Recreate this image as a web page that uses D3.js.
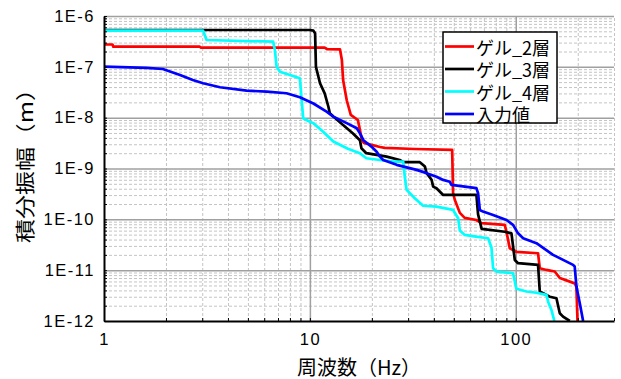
<!DOCTYPE html>
<html>
<head>
<meta charset="utf-8">
<script src="https://cdn.jsdelivr.net/npm/d3@7"></script>
<style>
  body { margin: 0; background: #fff; }
  svg { display: block; }
  text { font-family: "Liberation Sans", Arial, "Noto Sans CJK JP", sans-serif; }
  .jp { font-family: "Noto Sans CJK JP", "Noto Sans", sans-serif; }
</style>
</head>
<body>
<svg id="chart" width="621" height="379"></svg>
<script>
// Integrated amplitude spectra [frequency (Hz), amplitude (m)]
const seriesNames = ["ゲル_2層", "ゲル_3層", "ゲル_4層", "入力値"];
const seriesColors = ["#ff0000", "#000000", "#00ffff", "#0000ff"];

const gel2 = [
  [1, 2.75e-7], [1.1, 2.75e-7], [1.11, 2.49e-7], [2.92, 2.49e-7], [2.96, 2.38e-7],
  [11.8, 2.38e-7], [12.1, 2.24e-7], [14.0, 2.21e-7], [14.3, 1.36e-7], [14.5, 5.5e-8],
  [15.1, 2.2e-8], [15.8, 1.13e-8], [17.1, 9.0e-9], [17.5, 5.7e-9], [17.9, 3.6e-9],
  [18.3, 3.2e-9], [21.9, 2.65e-9], [23.1, 2.54e-9], [32.3, 2.42e-9], [49.1, 2.32e-9],
  [49.6, 3.3e-10], [50.6, 2.4e-10], [53.5, 1.34e-10], [56.5, 1.07e-10], [64.4, 9.7e-11],
  [68.1, 8.4e-11], [88.4, 7.8e-11], [90.1, 5.7e-11], [93.5, 2.7e-11], [100.7, 2.3e-11],
  [128.3, 2.15e-11], [130.8, 1.09e-11], [141, 1.01e-11], [154.6, 9.4e-12], [163.6, 7.0e-12],
  [193.3, 5.5e-12], [197, 4.75e-12], [199.5, 1.0e-12]
];

const gel3 = [
  [1, 5.3e-7], [10.0, 5.3e-7], [10.4, 5.14e-7], [10.6, 4.57e-7], [10.7, 1.0e-7],
  [11.2, 4.75e-8], [11.8, 3.0e-8], [12.3, 1.64e-8], [12.5, 1.22e-8], [13.0, 1.05e-8],
  [14.5, 7.2e-9], [16.2, 4.9e-9], [17.5, 3.6e-9], [17.8, 2.5e-9], [18.8, 2.0e-9],
  [21.1, 1.85e-9], [23.6, 1.71e-9], [27.3, 1.47e-9], [28.4, 1.33e-9], [34.2, 1.33e-9],
  [36.2, 1.09e-9], [36.9, 8.1e-10], [39.0, 6.0e-10], [39.7, 4.4e-10], [41.2, 4.1e-10],
  [44.4, 3.02e-10], [64.4, 3.02e-10], [65.6, 1.25e-10], [68.3, 6.5e-11], [88.4, 5.7e-11],
  [95.3, 5.3e-11], [98.9, 1.59e-11], [102.6, 1.37e-11], [128.3, 1.27e-11], [130.8, 3.8e-12],
  [146.3, 3.0e-12], [157.6, 2.8e-12], [163.6, 1.42e-12], [169.7, 1.22e-12], [183, 1.0e-12]
];

const gel4 = [
  [1, 5.14e-7], [3.03, 5.14e-7], [3.15, 3.37e-7], [6.63, 3.12e-7], [6.76, 2.14e-7],
  [6.89, 1.01e-7], [7.15, 8.0e-8], [8.0, 6.9e-8], [8.94, 5.96e-8], [9.12, 2.23e-8],
  [9.28, 9.7e-9], [10.0, 8.3e-9], [10.4, 7.8e-9], [11.6, 5.3e-9], [13.0, 3.4e-9],
  [15.3, 2.45e-9], [17.5, 2.0e-9], [18.8, 1.59e-9], [21.9, 1.47e-9], [25.4, 1.36e-9],
  [28.4, 1.36e-9], [28.9, 6.9e-10], [29.5, 3.8e-10], [32.3, 2.6e-10], [35.5, 1.85e-10],
  [41.2, 1.78e-10], [49.6, 1.53e-10], [52.5, 1.05e-10], [53.5, 6.0e-11], [56.5, 4.93e-11],
  [64, 4.57e-11], [73.4, 4.25e-11], [76.2, 2.8e-11], [77.6, 1.09e-11], [80.6, 9.4e-12],
  [97, 8.7e-12], [100.7, 4.3e-12], [112.7, 3.8e-12], [126, 3.6e-12], [141, 3.26e-12],
  [143.6, 2.4e-12], [149, 1.65e-12], [154, 1.0e-12]
];

const inputWave = [
  [1, 1.01e-7], [1.61, 9.5e-8], [1.93, 9.07e-8], [2.34, 6.9e-8], [2.70, 5.5e-8],
  [3.03, 4.75e-8], [3.66, 3.96e-8], [4.93, 3.4e-8], [6.17, 3.25e-8], [7.70, 3.02e-8],
  [8.94, 2.52e-8], [10.4, 1.9e-8], [12.05, 1.31e-8], [13.0, 1.05e-8], [15.1, 7.8e-9],
  [16.9, 6.2e-9], [17.5, 4.9e-9], [18.2, 3.6e-9], [19.9, 2.7e-9], [21.1, 2.14e-9],
  [21.9, 1.71e-9], [22.7, 1.47e-9], [26.4, 1.18e-9], [33.0, 9.4e-10], [36.9, 8.1e-10],
  [41.2, 6.9e-10], [44.4, 5.96e-10], [47.8, 5.5e-10], [48.7, 4.75e-10], [64.4, 4.1e-10],
  [65.6, 3.26e-10], [66.9, 1.53e-10], [69.3, 1.42e-10], [77.6, 1.22e-10], [90.1, 9.7e-11],
  [97, 7.8e-11], [102.6, 5.3e-11], [108.6, 4.25e-11], [126, 3.4e-11], [151.7, 2.0e-11],
  [189.8, 1.27e-11], [193.3, 1.18e-11], [197.1, 4.75e-12], [204.6, 2.24e-12], [212.4, 1.0e-12]
];

const seriesData = [gel2, gel3, gel4, inputWave];

const freqTicks = [1, 10, 100];
const freqTickLabels = ["1", "10", "100"];
const ampTicks = [1e-6, 1e-7, 1e-8, 1e-9, 1e-10, 1e-11, 1e-12];
const ampTickLabels = ["1E-6", "1E-7", "1E-8", "1E-9", "1E-10", "1E-11", "1E-12"];

const xTitle = "周波数（Hz）";
const yTitle = "積分振幅（m）";

// Layout
const plot = { left: 104, right: 614, top: 16, bottom: 321 };
const x = d3.scaleLog().domain([1, 300]).range([plot.left, plot.right]);
const y = d3.scaleLog().domain([1e-12, 1e-6]).range([plot.bottom, plot.top]);

const svg = d3.select("#chart");
svg.append("rect").attr("width", 621).attr("height", 379).attr("fill", "#fff");

// Minor tick positions (2..9 within each decade)
const xMinor = [];
[1, 10, 100].forEach(d => { for (let k = 2; k <= 9; k++) { const v = d * k; if (v <= 300) xMinor.push(v); } });
const yMinor = [];
for (let e = -12; e < -6; e++) { for (let k = 2; k <= 9; k++) yMinor.push(k * Math.pow(10, e)); }

const plotH = plot.bottom - plot.top;
const plotW = plot.right - plot.left;

// Minor grid (dashed)
const gMinor = svg.append("g");
gMinor.append("g").attr("transform", `translate(0,${plot.bottom})`)
  .call(d3.axisBottom(x).tickValues(xMinor).tickSize(-plotH).tickFormat(""));
gMinor.append("g").attr("transform", `translate(${plot.left},0)`)
  .call(d3.axisLeft(y).tickValues(yMinor).tickSize(-plotW).tickFormat(""));
gMinor.selectAll(".domain").remove();
gMinor.selectAll("line").attr("stroke", "#c4c4c4").attr("stroke-width", 1).attr("stroke-dasharray", "3,2");

// Major grid (solid)
const gMajor = svg.append("g");
gMajor.append("g").attr("transform", `translate(0,${plot.bottom})`)
  .call(d3.axisBottom(x).tickValues(freqTicks.slice(1)).tickSize(-plotH).tickFormat(""));
gMajor.append("g").attr("transform", `translate(${plot.left},0)`)
  .call(d3.axisLeft(y).tickValues(ampTicks.slice(0, -1)).tickSize(-plotW).tickFormat(""));
gMajor.selectAll(".domain").remove();
gMajor.selectAll("line").attr("stroke", "#a0a0a0").attr("stroke-width", 1.5);

// Clip for data lines
svg.append("clipPath").attr("id", "plotClip")
  .append("rect").attr("x", plot.left).attr("y", plot.top - 2).attr("width", plotW).attr("height", plotH + 2);

const line = d3.line().x(d => x(d[0])).y(d => y(d[1]));
const gLines = svg.append("g").attr("clip-path", "url(#plotClip)");
seriesData.forEach((data, i) => {
  gLines.append("path")
    .datum(data)
    .attr("fill", "none")
    .attr("stroke", seriesColors[i])
    .attr("stroke-width", 2.7)
    .attr("stroke-linejoin", "round")
    .attr("d", line);
});

// Inner tick marks
const gTicks = svg.append("g");
gTicks.append("g").attr("transform", `translate(${plot.left},0)`)
  .call(d3.axisRight(y).tickValues(ampTicks.concat(yMinor)).tickSize(3).tickFormat(""));
gTicks.append("g").attr("transform", `translate(0,${plot.bottom})`)
  .call(d3.axisTop(x).tickValues(freqTicks.concat(xMinor)).tickSize(3).tickFormat(""));
gTicks.selectAll(".domain").remove();
gTicks.selectAll("line").attr("stroke", "#000").attr("stroke-width", 1);

// Axis lines and labels
const yAxis = svg.append("g").attr("transform", `translate(${plot.left},0)`)
  .call(d3.axisLeft(y).tickValues(ampTicks).tickSize(0).tickPadding(9)
    .tickFormat((d, i) => ampTickLabels[i]));
const xAxis = svg.append("g").attr("transform", `translate(0,${plot.bottom})`)
  .call(d3.axisBottom(x).tickValues(freqTicks).tickSize(0).tickPadding(12)
    .tickFormat((d, i) => freqTickLabels[i]));
[xAxis, yAxis].forEach(a => {
  a.select(".domain").attr("stroke", "#000").attr("stroke-width", 2);
  a.selectAll("text").attr("font-size", 16.5).attr("fill", "#000")
    .attr("letter-spacing", 1.5)
    .attr("font-family", "'Liberation Sans', Arial, sans-serif");
});

// Axis titles
svg.append("text").attr("class", "jp")
  .attr("x", (plot.left + plot.right) / 2).attr("y", 366)
  .attr("text-anchor", "middle").attr("dominant-baseline", "central")
  .attr("font-size", 20).attr("fill", "#000").text(xTitle);
svg.append("text").attr("class", "jp")
  .attr("transform", "translate(24,160) rotate(-90)")
  .attr("text-anchor", "middle").attr("dominant-baseline", "central")
  .attr("font-size", 20).attr("textLength", 166).attr("lengthAdjust", "spacingAndGlyphs")
  .attr("fill", "#000").text(yTitle);

// Legend
const legend = svg.append("g");
legend.append("rect").attr("x", 443).attr("y", 32).attr("width", 114).attr("height", 91)
  .attr("fill", "#fff").attr("stroke", "#000").attr("stroke-width", 1.5);
seriesNames.forEach((name, i) => {
  const cy = 46.5 + i * 22.5;
  legend.append("line").attr("x1", 445).attr("x2", 474).attr("y1", cy).attr("y2", cy)
    .attr("stroke", seriesColors[i]).attr("stroke-width", 2.7);
  legend.append("text").attr("class", "jp").attr("x", 476).attr("y", cy)
    .attr("dominant-baseline", "central").attr("font-size", 18).attr("fill", "#000").text(name);
});
</script>
</body>
</html>
